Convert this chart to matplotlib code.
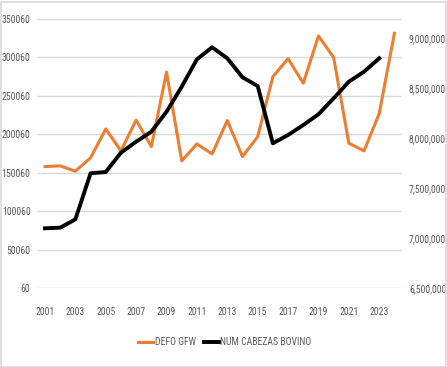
import matplotlib
matplotlib.use("Agg")
import matplotlib.pyplot as plt
from matplotlib import font_manager
from matplotlib.ticker import FuncFormatter

entries = font_manager.fontManager.ttflist
names = {f.name for f in entries}
narrow = [n for n in ['Liberation Sans Narrow', 'Roboto Condensed', 'Open Sans Condensed',
                      'Noto Sans Condensed', 'Arial Narrow'] if n in names]
has_dejavu_cond = any(f.name == 'DejaVu Sans' and f.stretch == 'condensed' for f in entries)
if narrow:
    FAM = [narrow[0], 'DejaVu Sans']
    STRETCH = 'normal'
    FS = 7.0
else:
    FAM = ['DejaVu Sans']
    STRETCH = 'condensed' if has_dejavu_cond else 'normal'
    FS = 6.2 if has_dejavu_cond else 5.9
plt.rcParams['font.family'] = FAM
plt.rcParams['font.stretch'] = STRETCH

years = list(range(2001, 2025))
defo_gfw = [158000, 159000, 152000, 169500, 207000, 178500, 218500, 184000, 281000, 165500,
            187500, 174500, 218000, 171000, 197000, 275000, 298500, 266500, 328000, 300000,
            188500, 178500, 227000, 331500]
cattle_years = list(range(2001, 2024))
num_cabezas = [7097000, 7103000, 7187000, 7647000, 7660000, 7853000, 7963000, 8063000, 8263000,
               8513000, 8787000, 8907000, 8797000, 8607000, 8520000, 7947000, 8030000, 8130000,
               8237000, 8397000, 8563000, 8663000, 8797000]
left_ticks = [60, 50060, 100060, 150060, 200060, 250060, 300060, 350060]
right_ticks = [6500000, 7000000, 7500000, 8000000, 8500000, 9000000]
xtick_years = list(range(2001, 2024, 2))

W, H = 447, 367
fig = plt.figure(figsize=(W/100, H/100), dpi=100)
fig.patch.set_facecolor('white')
fig.add_artist(plt.Rectangle((0.5/W, 0.5/H), 1-2/W, 1-2/H, transform=fig.transFigure,
                             fill=False, edgecolor='#d9d9d9', linewidth=1.2))

ax = fig.add_axes([37.4/W, 79/H, (402-37.4)/W, (288-19)/H])
ax.set_xlim(2000.5, 2024.5)
ax.set_ylim(60, 350060)
ax.set_yticks(left_ticks)
ax.set_yticklabels([str(v) for v in left_ticks])
ax.grid(axis='y', color='#d9d9d9', linewidth=1)
ax.set_axisbelow(True)
for s in ax.spines.values():
    s.set_visible(False)
ax.tick_params(axis='both', length=0, labelsize=FS, colors='#595959')
ax.tick_params(axis='x', pad=14)
ax.tick_params(axis='y', pad=5)
ax.set_xticks(xtick_years)
ax.set_xticklabels([str(y) for y in xtick_years])

ax2 = ax.twinx()
ax2.set_ylim(6500000, 6500000 + 269 * 10000)
ax2.set_yticks(right_ticks)
ax2.yaxis.set_major_formatter(FuncFormatter(lambda v, p: f"{int(v):,}"))
for s in ax2.spines.values():
    s.set_visible(False)
ax2.tick_params(axis='y', length=0, labelsize=FS, colors='#595959', pad=5)

l1, = ax.plot(years, defo_gfw, color='#ed7d31', linewidth=2.2, label='DEFO GFW', zorder=3)
l2, = ax2.plot(cattle_years, num_cabezas, color='#000000', linewidth=2.8, label='NUM CABEZAS BOVINO', zorder=4)

fig.legend(handles=[l1, l2], loc='center', bbox_to_anchor=(225/W, 1-342/H), ncol=2,
           frameon=False, fontsize=FS, labelcolor='#595959', handlelength=1.5,
           handletextpad=0.15, columnspacing=0.9)

fig.savefig('out.png', dpi=100, facecolor='white')
